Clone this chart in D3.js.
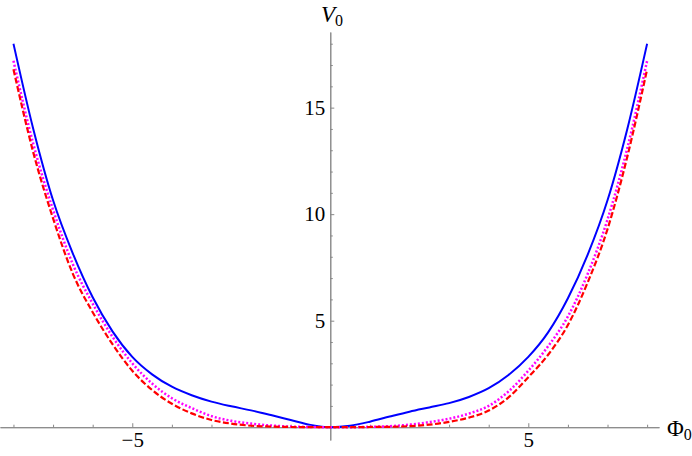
<!DOCTYPE html>
<html>
<head>
<meta charset="utf-8">
<script src="https://cdn.jsdelivr.net/npm/d3@7"></script>
<style>
  body { margin: 0; background: #fff; }
  svg { display: block; }
  .axis text { font-family: "Liberation Serif", "Times New Roman", serif; font-size: 21px; fill: #000; }
  .axis path, .axis line { stroke: #888; }
  .lbl { font-family: "Liberation Serif", "Times New Roman", serif; fill: #000; }
</style>
</head>
<body>
<svg width="692" height="456"></svg>
<script>
// field values
var phi = [-8, -7.5, -7, -6.5, -6, -5.5, -5, -4.5, -4, -3.5, -3, -2.5, -2, -1.5, -1, -0.5, 0,
           0.5, 1, 1.5, 2, 2.5, 3, 3.5, 4, 4.5, 5, 5.5, 6, 6.5, 7, 7.5, 8];

// solid blue
var vBlue = [18.0, 14.0, 10.65, 8.15, 6.1, 4.5, 3.3, 2.48, 1.9, 1.5, 1.2, 0.98, 0.79, 0.57, 0.34, 0.11, 0,
             0.07, 0.26, 0.5, 0.73, 0.93, 1.13, 1.42, 1.83, 2.45, 3.3, 4.45, 6.05, 8.1, 10.65, 14.0, 18.0];
// dotted magenta
var vMagenta = [17.2, 13.3, 10.2, 7.65, 5.8, 4.25, 3.0, 2.05, 1.36, 0.9, 0.52, 0.3, 0.17, 0.08, 0.03, 0.01, 0,
                0.0, 0.02, 0.05, 0.12, 0.24, 0.4, 0.64, 1.0, 1.68, 2.65, 3.8, 5.2, 7.2, 9.75, 13.1, 17.2];
// dashed red
var vRed = [16.8, 12.9, 9.8, 7.2, 5.4, 3.9, 2.65, 1.75, 1.1, 0.65, 0.34, 0.17, 0.07, 0.03, 0.01, 0, 0,
            0, 0.01, 0.02, 0.05, 0.12, 0.25, 0.45, 0.78, 1.4, 2.35, 3.4, 4.8, 6.8, 9.3, 12.7, 16.8];

var xMajor = [-5, 5];
var xMinor = [-8, -7, -6, -4, -3, -2, -1, 1, 2, 3, 4, 6, 7, 8];
var yMajor = [5, 10, 15];
var yMinor = [1, 2, 3, 4, 6, 7, 8, 9, 11, 12, 13, 14, 16, 17, 18];

var svg = d3.select("svg");

var x = d3.scaleLinear().domain([-8.34, 8.3]).range([0, 659]);
var y = d3.scaleLinear().domain([-0.6, 18.55]).range([440, 32]);

// axes cross at the origin
var xAxisG = svg.append("g").attr("class", "axis").attr("transform", "translate(0," + y(0) + ")");
xAxisG.call(d3.axisBottom(x).tickValues(xMinor).tickSize(-2.5).tickSizeOuter(0).tickFormat(""));
xAxisG.append("g").call(d3.axisBottom(x).tickValues(xMajor).tickSize(-4).tickSizeOuter(0).tickPadding(5));

var yAxisG = svg.append("g").attr("class", "axis").attr("transform", "translate(" + x(0) + ",0)");
yAxisG.call(d3.axisLeft(y).tickValues(yMinor).tickSize(-2.5).tickSizeOuter(0).tickFormat(""));
yAxisG.append("g").call(d3.axisLeft(y).tickValues(yMajor).tickSize(-4).tickSizeOuter(0).tickPadding(5));
svg.selectAll(".axis .domain").attr("fill", "none");
svg.selectAll(".axis g g .domain").remove();

var line = function(vals) {
  return d3.line()
    .x(function(d, i) { return x(phi[i]); })
    .y(function(d) { return y(d); })
    .curve(d3.curveMonotoneX)(vals);
};

svg.append("path").attr("d", line(vBlue))
  .attr("fill", "none").attr("stroke", "#0000ff").attr("stroke-width", 2);
svg.append("path").attr("d", line(vMagenta))
  .attr("fill", "none").attr("stroke", "#ff00ff").attr("stroke-width", 2.5)
  .attr("stroke-dasharray", "2,2");
svg.append("path").attr("d", line(vRed))
  .attr("fill", "none").attr("stroke", "#ff0000").attr("stroke-width", 2.2)
  .attr("stroke-dasharray", "6,2.5");

// axis labels
var vl = svg.append("text").attr("class", "lbl").attr("x", 321).attr("y", 22).attr("font-size", 23);
vl.append("tspan").attr("font-style", "italic").text("V");
vl.append("tspan").attr("font-size", 16).attr("dy", 4).text("0");

var pl = svg.append("text").attr("class", "lbl").attr("x", 667).attr("y", 436).attr("font-size", 23);
pl.append("tspan").text("Φ");
pl.append("tspan").attr("font-size", 16).attr("dy", 4).text("0");
</script>
</body>
</html>
